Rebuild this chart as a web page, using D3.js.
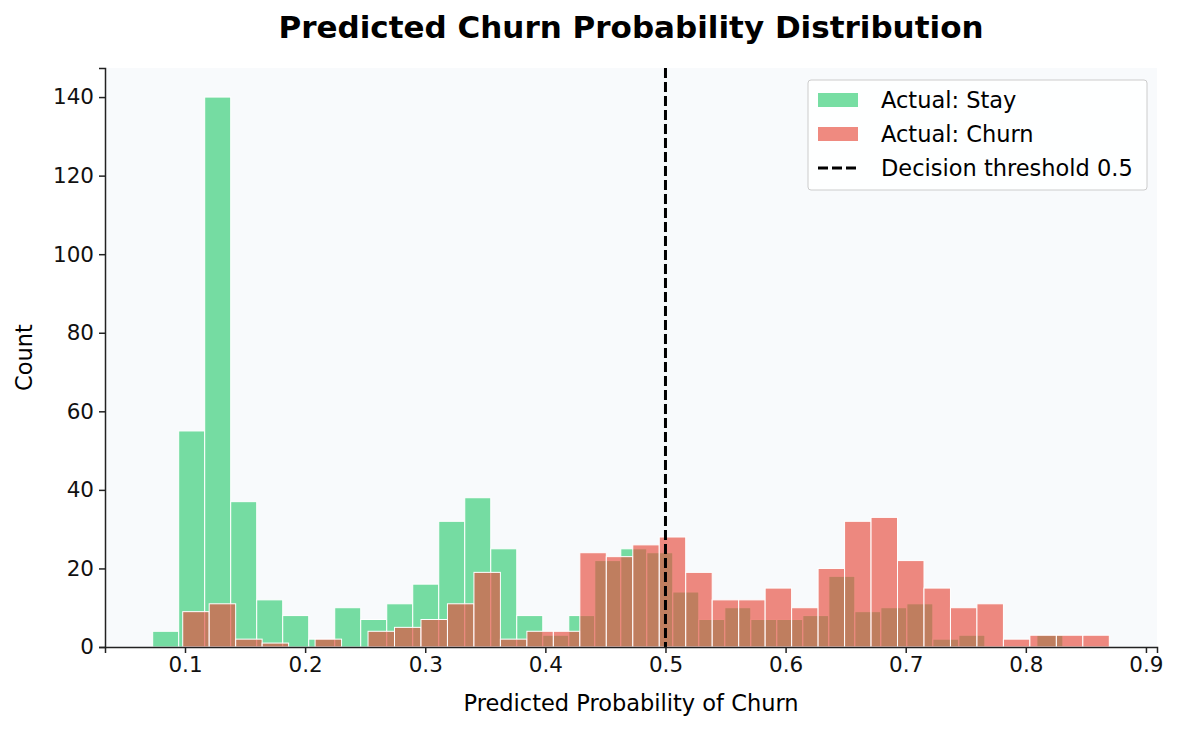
<!DOCTYPE html>
<html><head><meta charset="utf-8">
<script src="https://cdn.jsdelivr.net/npm/d3@7"></script>
<style>body{margin:0;background:#fff;font-family:"DejaVu Sans",sans-serif}</style>
</head><body><div id="chart"></div>
<script>
// histogram bins
var stayStart = 0.0731, stayWidth = 0.02165;
var stayCounts = [4,55,140,37,12,8,2,10,7,11,16,32,38,25,8,3,8,22,25,24,14,7,10,7,7,8,18,9,10,11,2,3,0,0,3];
var churnStart = 0.0981, churnWidth = 0.02204;
var churnCounts = [9,11,2,1,0,2,0,4,5,7,11,19,2,4,4,24,23,26,28,19,12,12,15,10,20,32,33,22,15,10,11,2,3,3,3];
var xTicks = [0.1,0.2,0.3,0.4,0.5,0.6,0.7,0.8,0.9];
var yTicks = [0,20,40,60,80,100,120,140];
var threshold = 0.5;

var W = 1180, H = 730;
var m = {left:105, right:23, top:68, bottom:83};

var svg = d3.select("#chart").append("svg").attr("width",W).attr("height",H);

var x = d3.scaleLinear().domain([0.0334,0.9092]).range([m.left,W-m.right]);
var y = d3.scaleLinear().domain([0,147.4]).range([H-m.bottom,m.top]);

svg.append("rect").attr("x",m.left).attr("y",m.top)
   .attr("width",W-m.left-m.right).attr("height",H-m.top-m.bottom).attr("fill","#f8fafc");

function bars(counts,start,width,color){
    svg.append("g").selectAll("rect").data(counts).enter().append("rect")
       .attr("x",(d,i)=>x(start+i*width))
       .attr("width",(d,i)=>x(start+(i+1)*width)-x(start+i*width))
       .attr("y",d=>y(d))
       .attr("height",d=>y(0)-y(d))
       .attr("fill",color).attr("fill-opacity",0.65)
       .attr("stroke","#fff").attr("stroke-width",1)
       .style("display",d=>d>0?null:"none");
}
bars(stayCounts,stayStart,stayWidth,"#2ecc71");
bars(churnCounts,churnStart,churnWidth,"#e74c3c");

svg.append("line").attr("x1",x(threshold)).attr("x2",x(threshold))
   .attr("y1",m.top).attr("y2",H-m.bottom)
   .attr("stroke","#000").attr("stroke-width",3).attr("stroke-dasharray","10,4");

var xa = svg.append("g").attr("transform",`translate(0,${H-m.bottom})`)
   .call(d3.axisBottom(x).tickValues(xTicks).tickFormat(d3.format("")).tickSize(6).tickPadding(4));
var ya = svg.append("g").attr("transform",`translate(${m.left},0)`)
   .call(d3.axisLeft(y).tickValues(yTicks).tickSize(6).tickPadding(5));
[xa,ya].forEach(a=>{
    a.selectAll("text").attr("font-size",21.5).attr("font-family","DejaVu Sans").attr("fill","#111");
    a.select(".domain").attr("stroke","#222").attr("stroke-width",1.5);
    a.selectAll(".tick line").attr("stroke","#222").attr("stroke-width",1.5);
});

svg.append("text").attr("x",W/2+41).attr("y",711).attr("text-anchor","middle")
   .attr("font-size",22.5).text("Predicted Probability of Churn");
svg.append("text").attr("transform",`translate(32,${(m.top+H-m.bottom)/2}) rotate(-90)`)
   .attr("text-anchor","middle").attr("font-size",22.5).text("Count");
svg.append("text").attr("x",631).attr("y",38).attr("text-anchor","middle")
   .attr("font-size",31).attr("font-weight","bold").text("Predicted Churn Probability Distribution");

// legend
var lg = svg.append("g").attr("transform","translate(808,80)");
lg.append("rect").attr("width",339).attr("height",110).attr("rx",3)
  .attr("fill","#fff").attr("fill-opacity",0.85).attr("stroke","#ccc");
var items = [["Actual: Stay","#2ecc71"],["Actual: Churn","#e74c3c"],["Decision threshold 0.5",null]];
items.forEach((it,i)=>{
    var cy = 20+i*34;
    if(it[1]) lg.append("rect").attr("x",10).attr("y",cy-7).attr("width",40).attr("height",14)
                .attr("fill",it[1]).attr("fill-opacity",0.65);
    else lg.append("line").attr("x1",10).attr("x2",50).attr("y1",cy).attr("y2",cy)
                .attr("stroke","#000").attr("stroke-width",3).attr("stroke-dasharray","10,4");
    lg.append("text").attr("x",73).attr("y",cy+8).attr("font-size",22.5).text(it[0]);
});
</script></body></html>
